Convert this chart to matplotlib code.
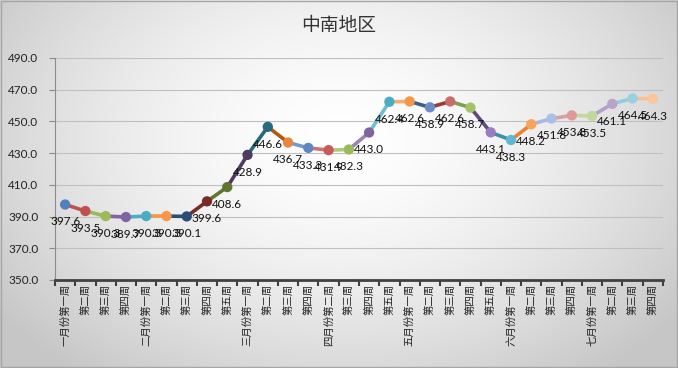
import matplotlib
matplotlib.use('Agg')
import matplotlib.pyplot as plt
import numpy as np
from matplotlib.patches import Rectangle

plt.rcParams['font.family'] = ['Lato', 'Noto Sans CJK SC', 'DejaVu Sans']

title = '中南地区'
categories = [
    '一月份第一周', '第二周', '第三周', '第四周',
    '二月份第一周', '第二周', '第三周', '第四周', '第五周',
    '三月份第一周', '第二周', '第三周', '第四周',
    '四月份第二周', '第三周', '第四周', '第五周',
    '五月份第一周', '第二周', '第三周', '第四周', '第五周',
    '六月份第一周', '第二周', '第三周', '第四周',
    '七月份第一周', '第二周', '第三周', '第四周',
]
values = [
    397.6, 393.5, 390.3, 389.7, 390.3, 390.3, 390.1, 399.6, 408.6,
    428.9, 446.6, 436.7, 433.3, 431.9, 432.3, 443.0, 462.4, 462.6,
    458.9, 462.6, 458.7, 443.1, 438.3, 448.2, 451.8, 453.8, 453.5,
    461.1, 464.5, 464.3,
]
y_ticks = [350, 370, 390, 410, 430, 450, 470, 490]

line_colors = [
    '#4F81BD', '#C0504D', '#9BBB59', '#8064A2', '#4BACC6', '#F79646',
    '#2C4D75', '#772C2A', '#5F7530', '#4D3B62', '#276A7C', '#B65708',
    '#729ACA', '#CD7371', '#AFC97A', '#9983B5', '#6FBDD1', '#F9AB6B',
    '#3A5F8B', '#9A3A38', '#7F9F4C', '#5E4A7E', '#3891A7', '#EC822E',
    '#A7B9E3', '#D9A0A0', '#C3D69B', '#B3A2C7', '#93CDDD', '#FAC090',
]
marker_colors = [
    '#4F81BD', '#C0504D', '#9BBB59', '#8064A2', '#4BACC6', '#F79646',
    '#2C4D75', '#772C2A', '#5F7530', '#4D3B62', '#276A7C', '#E8873A',
    '#5F88C0', '#C85A58', '#9BBB59', '#8064A2', '#4BACC6', '#F79646',
    '#6A8CC8', '#CD6A6A', '#A3C46A', '#9A7DBE', '#5FB8D1', '#F9A35A',
    '#A9BFE4', '#DE9A98', '#C3D69B', '#B7A4CC', '#9AD0E0', '#FBC49A',
]

W, H = 678, 368
fig = plt.figure(figsize=(W / 100, H / 100), dpi=100)

# background gradient
bg = fig.add_axes([0, 0, 1, 1], zorder=-10)
yy, xx = np.mgrid[0:1:200j, 0:1:300j]
r = np.sqrt(((xx - 0.5) / 0.62) ** 2 + ((yy - 0.38) / 0.8) ** 2)
r = np.clip(r, 0, 1)
g = 1.0 - 0.22 * r ** 1.6
img = np.dstack([g, g, g])
bg.imshow(img, extent=[0, 1, 0, 1], aspect='auto', origin='upper')
bg.set_xlim(0, 1)
bg.set_ylim(0, 1)
bg.axis('off')
fig.patches.append(Rectangle((0.001, 0.002), 0.997, 0.995, transform=fig.transFigure,
                             fill=False, edgecolor='#A6A6A6', lw=1.0))

fig.text(0.5, 1 - 25 / H, title, ha='center', va='center', fontsize=13.5,
         color='#333333', family=['Noto Sans CJK SC'])

ax = fig.add_axes([55 / W, 1 - 280 / H, (663 - 55) / W, (280 - 58) / H])
ax.patch.set_alpha(0)

x = np.arange(len(values))
for i in range(1, len(values)):
    ax.plot(x[i - 1:i + 1], values[i - 1:i + 1], color=line_colors[i], lw=2.6,
            solid_capstyle='round', zorder=2)
ax.scatter(x, values, s=55, c=marker_colors, zorder=3, linewidths=0)

for xi, v in zip(x, values):
    ax.annotate(f'{v:.1f}', (xi, v), xytext=(0, -12.5), textcoords='offset points',
                ha='center', va='center', fontsize=8.5, color='#111111', zorder=4)

ax.set_xlim(-0.5, len(values) - 0.5)
ax.set_ylim(y_ticks[0], y_ticks[-1])
ax.set_yticks(y_ticks)
ax.set_yticklabels([f'{t:.1f}' for t in y_ticks], fontsize=8.5, color='#222222')
ax.yaxis.grid(True, color='#BFBFBF', lw=0.8)
ax.set_axisbelow(True)

ax.set_xticks(np.arange(-0.5, len(values), 1))
ax.set_xticklabels([])
ax.set_xticks(x, minor=True)
ax.set_xticklabels(categories, minor=True, rotation=90, fontsize=7.5,
                   family=['Noto Sans CJK SC'], va='top', ha='center', color='#222222')
ax.tick_params(axis='x', which='major', length=4, width=1.5, color='#404040', direction='out')
ax.tick_params(axis='x', which='minor', length=0, pad=3)
ax.tick_params(axis='y', length=4, width=0.8, color='#8C8C8C', pad=8)

for s in ['top', 'right']:
    ax.spines[s].set_visible(False)
ax.spines['left'].set_color('#8C8C8C')
ax.spines['left'].set_linewidth(0.8)
ax.spines['bottom'].set_color('#404040')
ax.spines['bottom'].set_linewidth(2)

fig.savefig('out.png', dpi=100)
